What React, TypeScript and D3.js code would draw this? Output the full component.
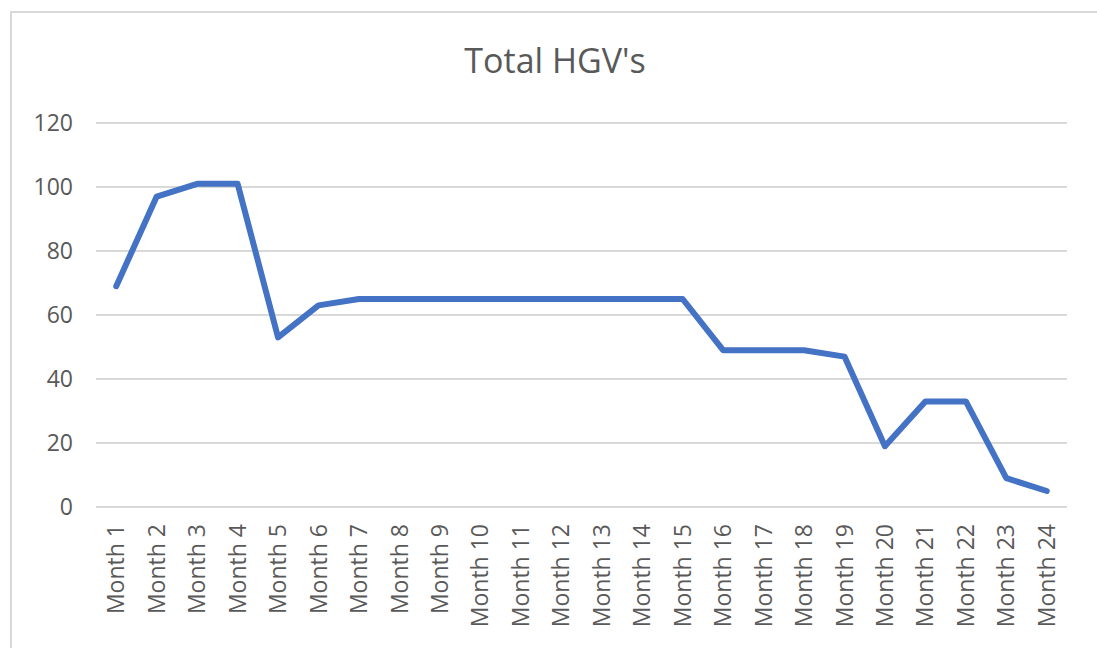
import { useEffect, useRef } from 'react';
import * as d3 from 'd3';

const months = Array.from({ length: 24 }, (_, i) => 'Month ' + (i + 1));
const hgvTotals = [69, 97, 101, 101, 53, 63, 65, 65, 65, 65, 65, 65, 65, 65, 65, 49, 49, 49, 47, 19, 33, 33, 9, 5];
const yTicks = [0, 20, 40, 60, 80, 100, 120];

const W = 1097;
const H = 648;
const FONT = '"Open Sans", "Noto Sans", sans-serif';

export default function App() {
  const svgRef = useRef<SVGSVGElement>(null);

  useEffect(() => {
    if (!svgRef.current) return;
    const svg = d3.select(svgRef.current);
    svg.selectAll('*').remove();

    const left = 96, right = 1067, top = 123, bottom = 507;

    const x = d3.scaleBand<string>().domain(months).range([left, right]);
    const y = d3.scaleLinear().domain([0, 120]).range([bottom, top]);

    svg.append('rect').attr('width', W).attr('height', H).attr('fill', '#ffffff');

    // chart border (right/bottom edges are cropped)
    svg.append('path')
      .attr('d', `M11,${H} L11,12 L${W},12`)
      .attr('fill', 'none')
      .attr('stroke', '#d9d9d9')
      .attr('stroke-width', 2);

    svg.append('text')
      .attr('x', 555)
      .attr('y', 73)
      .attr('text-anchor', 'middle')
      .attr('font-family', FONT)
      .attr('font-size', 34)
      .attr('fill', '#595959')
      .text("Total HGV's");

    // gridlines
    svg.append('g')
      .selectAll('line')
      .data(yTicks)
      .join('line')
      .attr('x1', left)
      .attr('x2', right)
      .attr('y1', d => y(d))
      .attr('y2', d => y(d))
      .attr('stroke', '#d9d9d9')
      .attr('stroke-width', 2);

    svg.append('g')
      .selectAll('text')
      .data(yTicks)
      .join('text')
      .attr('x', 73)
      .attr('y', d => y(d))
      .attr('dy', '0.35em')
      .attr('text-anchor', 'end')
      .attr('font-family', FONT)
      .attr('font-size', 23)
      .attr('fill', '#595959')
      .text(d => d);

    svg.append('g')
      .selectAll('text')
      .data(months)
      .join('text')
      .attr('transform', d => `translate(${(x(d) || 0) + x.bandwidth() / 2},524) rotate(-90)`)
      .attr('dy', '0.35em')
      .attr('text-anchor', 'end')
      .attr('font-family', FONT)
      .attr('font-size', 23)
      .attr('fill', '#595959')
      .text(d => d);

    const line = d3.line<number>()
      .x((_, i) => (x(months[i]) || 0) + x.bandwidth() / 2)
      .y(d => y(d));

    svg.append('path')
      .datum(hgvTotals)
      .attr('d', line)
      .attr('fill', 'none')
      .attr('stroke', '#4472c4')
      .attr('stroke-width', 6)
      .attr('stroke-linejoin', 'round')
      .attr('stroke-linecap', 'round');
  }, []);

  return (
    <svg ref={svgRef} width={W} height={H} style={{ position: 'absolute', left: 0, top: 0 }} />
  );
}
